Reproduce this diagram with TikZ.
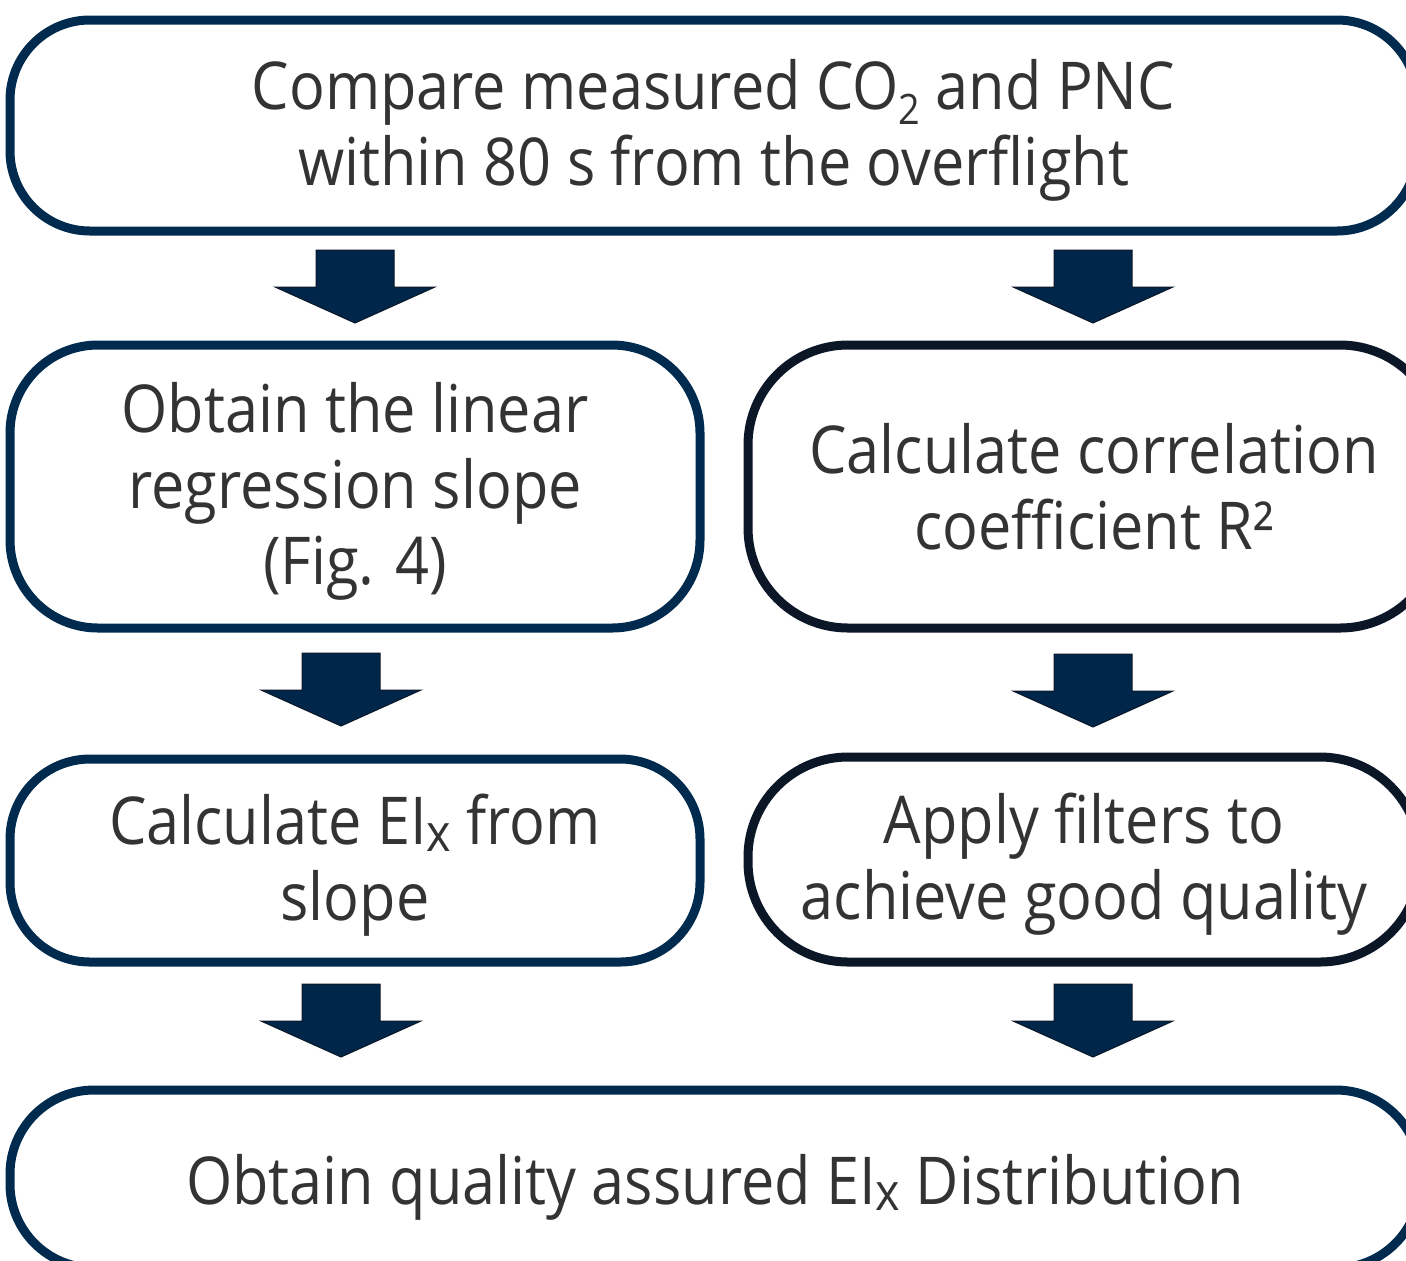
\documentclass[tikz,border=0pt]{standalone}
\usepackage{fontspec}
\setmainfont{Open Sans}[FakeStretch=0.9]
\definecolor{navy}{HTML}{002B4E}
\definecolor{inkdark}{HTML}{0B1627}
\definecolor{arrowfill}{HTML}{00264A}
\definecolor{textgray}{HTML}{333333}
\newcommand{\subtwo}{\raisebox{-0.23em}{\fontsize{21}{21}\selectfont 2}}
\newcommand{\subx}{\raisebox{-0.1em}{\fontsize{26}{26}\selectfont x}}
\tikzset{
  stepbox/.style={draw=navy, line width=4.5pt, rectangle, inner sep=0pt},
  darkbox/.style={stepbox, draw=inkdark},
  steptext/.style={align=center, text=textgray, inner sep=0pt,
    font=\fontsize{33}{38}\selectfont, yshift=-2.5pt},
  blockarrow/.style={fill=arrowfill, draw=inkdark, line width=0.5pt, line join=miter}
}
% block arrow pointing down, anchored at the middle of its top edge
\newcommand{\downarrowat}[1]{%
  \draw[blockarrow] (#1) ++(-39,0) -- ++(78,0) -- ++(0,37) -- ++(41,0)
    -- ++(-80,36) -- ++(-80,-36) -- ++(41,0) -- cycle;}
\begin{document}
\begin{tikzpicture}[x=0.5pt, y=-0.5pt]
\useasboundingbox (0,0) rectangle (1406,1260);
\clip (0,0) rectangle (1406,1260);

% process boxes
\node[stepbox, rounded corners=40pt, minimum width=703.5pt, minimum height=105.5pt]
  (compare) at (713.5,125.5) {};
\node[stepbox, rounded corners=44pt, minimum width=345pt, minimum height=141.5pt]
  (slope) at (355,486.5) {};
\node[darkbox, rounded corners=50pt, minimum width=346pt, minimum height=141.5pt]
  (corr) at (1094,486.5) {};
\node[stepbox, rounded corners=40pt, minimum width=345pt, minimum height=101.5pt]
  (eix) at (355,860.5) {};
\node[darkbox, rounded corners=50pt, minimum width=336pt, minimum height=102.5pt]
  (filters) at (1084,859.5) {};
\node[stepbox, rounded corners=42pt, minimum width=705pt, minimum height=89pt]
  (result) at (715,1179) {};

% box labels
\node[steptext] (compare-t) at (compare.center)
  {Compare measured CO\subtwo{} and PNC\\within 80 s from the overflight};
\node[steptext] (slope-t) at (slope.center)
  {Obtain the linear\\regression slope\\(Fig. 4)};
\node[steptext, yshift=2.5pt] (corr-t) at (corr.center)
  {Calculate correlation\\coefficient R²};
\node[steptext] (eix-t) at (eix.center) {Calculate EI\subx{} from\\slope};
\node[steptext] (filters-t) at (filters.center) {Apply filters to\\achieve good quality};
\node[steptext, yshift=-1.5pt] (result-t) at (result.center)
  {Obtain quality assured EI\subx{} Distribution};

% connectors between the steps
\coordinate (a1) at (355,250);
\coordinate (a2) at (1093,250);
\coordinate (a3) at (341,653);
\coordinate (a4) at (1093,654);
\coordinate (a5) at (341,984);
\coordinate (a6) at (1093,984);
\foreach \a in {a1,a2,a3,a4,a5,a6} {\downarrowat{\a}}
\end{tikzpicture}
\end{document}
